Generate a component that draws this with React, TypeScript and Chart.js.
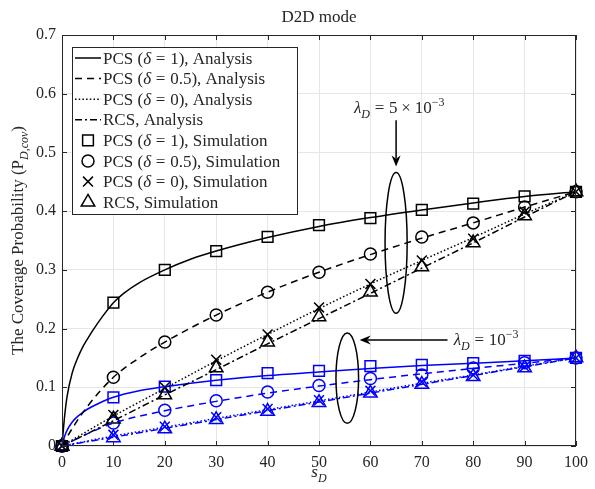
import React, { useEffect, useRef } from 'react';
import { Chart, registerables } from 'chart.js';

Chart.register(...registerables);

// ---- axes ----
const X_TICKS = [0, 10, 20, 30, 40, 50, 60, 70, 80, 90, 100];
const Y_TICKS = [0, 0.1, 0.2, 0.3, 0.4, 0.5, 0.6, 0.7];
const Y_TICK_LABELS = ['0', '0.1', '0.2', '0.3', '0.4', '0.5', '0.6', '0.7'];

// ---- simulation points (s_D = 0, 10, ..., 100) ----
const SIM_X = [0, 10, 20, 30, 40, 50, 60, 70, 80, 90, 100];

// lambda_D = 5e-3
const HI_PCS1_SIM = [0, 0.244, 0.3, 0.332, 0.356, 0.376, 0.388, 0.402, 0.413, 0.425, 0.433];
const HI_PCS05_SIM = [0, 0.117, 0.177, 0.223, 0.262, 0.296, 0.327, 0.356, 0.38, 0.407, 0.433];
const HI_PCS0_SIM = [0, 0.053, 0.1, 0.147, 0.19, 0.236, 0.276, 0.316, 0.353, 0.399, 0.433];
const HI_RCS_SIM = [0, 0.046, 0.087, 0.133, 0.177, 0.22, 0.262, 0.305, 0.346, 0.392, 0.433];

// lambda_D = 1e-3
const LO_PCS1_SIM = [0, 0.083, 0.101, 0.112, 0.124, 0.128, 0.136, 0.138, 0.141, 0.145, 0.15];
const LO_PCS05_SIM = [0, 0.039, 0.061, 0.077, 0.092, 0.103, 0.115, 0.121, 0.133, 0.142, 0.15];
const LO_PCS0_SIM = [0, 0.019, 0.033, 0.049, 0.063, 0.078, 0.094, 0.109, 0.121, 0.135, 0.15];
const LO_RCS_SIM = [0, 0.014, 0.029, 0.045, 0.059, 0.074, 0.09, 0.105, 0.118, 0.133, 0.15];

// ---- analysis curves ----
const HI_PCS1_X = [0, 0.5, 1, 2, 3, 4, 5, 6, 8, 10, 12, 15, 20, 25, 30, 40, 50, 60, 70, 80, 90, 100];
const HI_PCS1_Y = [0, 0.05, 0.085, 0.125, 0.149, 0.168, 0.183, 0.197, 0.222, 0.244, 0.26, 0.278, 0.3, 0.318, 0.332, 0.355, 0.374, 0.389, 0.402, 0.414, 0.425, 0.433];
const HI_PCS05_X = [0, 2, 5, 10, 15, 20, 30, 40, 50, 60, 70, 80, 90, 100];
const HI_PCS05_Y = [0, 0.03, 0.068, 0.117, 0.15, 0.177, 0.223, 0.262, 0.296, 0.326, 0.354, 0.38, 0.407, 0.433];
const HI_PCS0_X = [0, 10, 20, 30, 40, 50, 60, 70, 80, 90, 100];
const HI_PCS0_Y = [0, 0.051, 0.098, 0.145, 0.19, 0.234, 0.276, 0.316, 0.355, 0.395, 0.433];
const HI_RCS_X = [0, 10, 20, 30, 40, 50, 60, 70, 80, 90, 100];
const HI_RCS_Y = [0, 0.043, 0.087, 0.13, 0.174, 0.217, 0.26, 0.303, 0.346, 0.39, 0.433];

const LO_PCS1_X = [0, 0.5, 1, 2, 3, 4, 5, 7, 10, 15, 20, 25, 30, 40, 50, 60, 70, 80, 90, 100];
const LO_PCS1_Y = [0, 0.016, 0.027, 0.041, 0.05, 0.057, 0.063, 0.072, 0.083, 0.094, 0.101, 0.107, 0.112, 0.12, 0.126, 0.132, 0.137, 0.141, 0.145, 0.15];
const LO_PCS05_X = [0, 5, 10, 20, 30, 40, 50, 60, 70, 80, 90, 100];
const LO_PCS05_Y = [0, 0.021, 0.039, 0.06, 0.076, 0.09, 0.102, 0.113, 0.123, 0.132, 0.141, 0.15];
const LO_PCS0_X = [0, 10, 20, 30, 40, 50, 60, 70, 80, 90, 100];
const LO_PCS0_Y = [0, 0.017, 0.032, 0.047, 0.062, 0.077, 0.092, 0.107, 0.121, 0.136, 0.15];
const LO_RCS_X = [0, 10, 20, 30, 40, 50, 60, 70, 80, 90, 100];
const LO_RCS_Y = [0, 0.015, 0.03, 0.045, 0.06, 0.075, 0.09, 0.105, 0.12, 0.135, 0.15];

// ---- styling ----
const FONT = '"Liberation Serif", "DejaVu Serif", serif';
const INK = '#262626';
const GRID = '#e6e6e6';
const BLACK = '#000000';
const BLUE = '#0000ff';

// pad: extra space (in em) on both sides of a segment, like math relation spacing
type Seg = { t: string; it?: boolean; sub?: boolean; sup?: boolean; pad?: number };

const EQ: Seg = { t: '=', pad: 0.28 };

const STYLES = {
  pcs1: { dash: [] as number[], marker: 'rect', radius: 7.6 },
  pcs05: { dash: [7, 5], marker: 'circle', radius: 6 },
  pcs0: { dash: [1.5, 2.2], marker: 'crossRot', radius: 7 },
  rcs: { dash: [7, 3, 2, 3], marker: 'triangle', radius: 7.8 },
};

const LEGEND_ROWS: { segs: Seg[]; kind: 'line' | 'marker'; style: keyof typeof STYLES }[] = [
  { segs: [{ t: 'PCS (' }, { t: 'δ', it: true }, EQ, { t: '1), Analysis' }], kind: 'line', style: 'pcs1' },
  { segs: [{ t: 'PCS (' }, { t: 'δ', it: true }, EQ, { t: '0.5), Analysis' }], kind: 'line', style: 'pcs05' },
  { segs: [{ t: 'PCS (' }, { t: 'δ', it: true }, EQ, { t: '0), Analysis' }], kind: 'line', style: 'pcs0' },
  { segs: [{ t: 'RCS, Analysis' }], kind: 'line', style: 'rcs' },
  { segs: [{ t: 'PCS (' }, { t: 'δ', it: true }, EQ, { t: '1), Simulation' }], kind: 'marker', style: 'pcs1' },
  { segs: [{ t: 'PCS (' }, { t: 'δ', it: true }, EQ, { t: '0.5), Simulation' }], kind: 'marker', style: 'pcs05' },
  { segs: [{ t: 'PCS (' }, { t: 'δ', it: true }, EQ, { t: '0), Simulation' }], kind: 'marker', style: 'pcs0' },
  { segs: [{ t: 'RCS, Simulation' }], kind: 'marker', style: 'rcs' },
];

const TITLE_TEXT: Seg[] = [{ t: 'D2D mode' }];
const X_TITLE: Seg[] = [{ t: 's', it: true }, { t: 'D', it: true, sub: true }];
const Y_TITLE: Seg[] = [
  { t: 'The Coverage Probability (P' },
  { t: 'D,cov', it: true, sub: true },
  { t: ')' },
];
const NOTE_HI: Seg[] = [
  { t: 'λ', it: true }, { t: 'D', it: true, sub: true }, EQ, { t: '5' }, { t: '×', pad: 0.22 }, { t: '10' }, { t: '−3', sup: true },
];
const NOTE_LO: Seg[] = [
  { t: 'λ', it: true }, { t: 'D', it: true, sub: true }, EQ, { t: '10' }, { t: '−3', sup: true },
];

const pts = (xs: number[], ys: number[]) => xs.map((x, i) => ({ x, y: ys[i] }));

function lineSet(xs: number[], ys: number[], color: string, style: keyof typeof STYLES) {
  return {
    data: pts(xs, ys),
    showLine: true,
    borderColor: color,
    borderWidth: 1.5,
    borderDash: STYLES[style].dash,
    pointRadius: 0,
    cubicInterpolationMode: 'monotone' as const,
    clip: false as const,
  };
}

function markerSet(ys: number[], color: string, style: keyof typeof STYLES) {
  return {
    data: pts(SIM_X, ys),
    showLine: false,
    pointStyle: STYLES[style].marker,
    pointRadius: STYLES[style].radius,
    pointBorderColor: color,
    pointBackgroundColor: 'rgba(0,0,0,0)',
    pointBorderWidth: 1.5,
    clip: false as const,
  };
}

function drawRich(ctx: CanvasRenderingContext2D, segs: Seg[], x: number, y: number, size: number, align: 'left' | 'center') {
  const fontFor = (s: Seg) => `${s.it ? 'italic ' : ''}${s.sub || s.sup ? Math.round(size * 0.72) : size}px ${FONT}`;
  const widthOf = (s: Seg) => {
    ctx.font = fontFor(s);
    return ctx.measureText(s.t).width + 2 * (s.pad || 0) * size;
  };
  let total = 0;
  segs.forEach((s) => {
    total += widthOf(s);
  });
  let cx = align === 'center' ? x - total / 2 : x;
  ctx.textAlign = 'left';
  ctx.textBaseline = 'alphabetic';
  segs.forEach((s) => {
    const w = widthOf(s);
    ctx.font = fontFor(s);
    const dy = s.sub ? size * 0.28 : s.sup ? -size * 0.42 : 0;
    ctx.fillText(s.t, cx + (s.pad || 0) * size, y + dy);
    cx += w;
  });
}

function arrowHead(ctx: CanvasRenderingContext2D, x0: number, y0: number, x1: number, y1: number) {
  const ang = Math.atan2(y1 - y0, x1 - x0);
  const L = 11;
  const W = 4.5;
  ctx.save();
  ctx.translate(x1, y1);
  ctx.rotate(ang);
  ctx.beginPath();
  ctx.moveTo(0, 0);
  ctx.lineTo(-L, -W);
  ctx.lineTo(-L * 0.7, 0);
  ctx.lineTo(-L, W);
  ctx.closePath();
  ctx.fill();
  ctx.restore();
}

function drawMarker(ctx: CanvasRenderingContext2D, style: keyof typeof STYLES, x: number, y: number) {
  const st = STYLES[style];
  ctx.save();
  ctx.strokeStyle = BLACK;
  ctx.lineWidth = 1.5;
  ctx.setLineDash([]);
  const r = st.radius;
  ctx.beginPath();
  if (st.marker === 'rect') {
    const h = r * Math.SQRT1_2;
    ctx.rect(x - h, y - h, 2 * h, 2 * h);
  } else if (st.marker === 'circle') {
    ctx.arc(x, y, r, 0, Math.PI * 2);
  } else if (st.marker === 'crossRot') {
    const h = r * Math.SQRT1_2;
    ctx.moveTo(x - h, y - h);
    ctx.lineTo(x + h, y + h);
    ctx.moveTo(x + h, y - h);
    ctx.lineTo(x - h, y + h);
  } else {
    const a = (2 * Math.PI) / 3;
    ctx.moveTo(x, y - r);
    ctx.lineTo(x + Math.sin(a) * r, y - Math.cos(a) * r);
    ctx.lineTo(x + Math.sin(2 * a) * r, y - Math.cos(2 * a) * r);
    ctx.closePath();
  }
  ctx.stroke();
  ctx.restore();
}

const decorations = {
  id: 'decorations',
  beforeDraw(chart: any) {
    const ctx = chart.ctx as CanvasRenderingContext2D;
    ctx.save();
    ctx.fillStyle = '#ffffff';
    ctx.fillRect(0, 0, chart.width, chart.height);
    ctx.restore();
  },
  afterDraw(chart: any) {
    const ctx = chart.ctx as CanvasRenderingContext2D;
    const { left, right, top, bottom } = chart.chartArea;
    const xs = chart.scales.x;
    const ys = chart.scales.y;

    // axes box with inward ticks
    ctx.save();
    ctx.strokeStyle = INK;
    ctx.lineWidth = 1;
    ctx.setLineDash([]);
    ctx.strokeRect(left + 0.5, top + 0.5, right - left - 1, bottom - top - 1);
    ctx.beginPath();
    const tl = 5;
    X_TICKS.forEach((v) => {
      const px = Math.round(xs.getPixelForValue(v)) + 0.5;
      ctx.moveTo(px, bottom);
      ctx.lineTo(px, bottom - tl);
      ctx.moveTo(px, top);
      ctx.lineTo(px, top + tl);
    });
    Y_TICKS.forEach((v) => {
      const py = Math.round(ys.getPixelForValue(v)) + 0.5;
      ctx.moveTo(left, py);
      ctx.lineTo(left + tl, py);
      ctx.moveTo(right, py);
      ctx.lineTo(right - tl, py);
    });
    ctx.stroke();
    ctx.restore();

    // annotations: ellipses and arrows
    ctx.save();
    ctx.strokeStyle = BLACK;
    ctx.fillStyle = BLACK;
    ctx.lineWidth = 1.5;
    ctx.setLineDash([]);
    const ellipse = (cx: number, cy: number, rx: number, ry: number) => {
      const px = xs.getPixelForValue(cx);
      const py = ys.getPixelForValue(cy);
      const prx = Math.abs(xs.getPixelForValue(cx + rx) - px);
      const pry = Math.abs(ys.getPixelForValue(cy + ry) - py);
      ctx.beginPath();
      ctx.ellipse(px, py, prx, pry, 0, 0, Math.PI * 2);
      ctx.stroke();
    };
    ellipse(65, 0.346, 2.15, 0.12);
    ellipse(55.5, 0.1156, 2.2, 0.077);

    const arrow = (x0: number, y0: number, x1: number, y1: number) => {
      const p0x = xs.getPixelForValue(x0);
      const p0y = ys.getPixelForValue(y0);
      const p1x = xs.getPixelForValue(x1);
      const p1y = ys.getPixelForValue(y1);
      const ang = Math.atan2(p1y - p0y, p1x - p0x);
      ctx.beginPath();
      ctx.moveTo(p0x, p0y);
      ctx.lineTo(p1x - Math.cos(ang) * 8, p1y - Math.sin(ang) * 8);
      ctx.stroke();
      arrowHead(ctx, p0x, p0y, p1x, p1y);
    };
    arrow(65, 0.555, 65, 0.476);
    arrow(75, 0.1806, 57.9, 0.1806);

    ctx.fillStyle = INK;
    drawRich(ctx, NOTE_HI, xs.getPixelForValue(65.6), ys.getPixelForValue(0.576) + 5, 17, 'center');
    drawRich(ctx, NOTE_LO, xs.getPixelForValue(76.2), ys.getPixelForValue(0.1806) + 5, 17, 'left');
    ctx.restore();

    // legend
    ctx.save();
    const lx0 = 72, ly0 = 47, lx1 = 298, ly1 = 215;
    ctx.fillStyle = '#ffffff';
    ctx.fillRect(lx0, ly0, lx1 - lx0, ly1 - ly0);
    ctx.strokeStyle = INK;
    ctx.lineWidth = 1;
    ctx.strokeRect(lx0 + 0.5, ly0 + 0.5, lx1 - lx0 - 1, ly1 - ly0 - 1);
    LEGEND_ROWS.forEach((row, i) => {
      const cy = 58 + i * 20.6;
      if (row.kind === 'line') {
        ctx.save();
        ctx.strokeStyle = BLACK;
        ctx.lineWidth = 1.5;
        ctx.setLineDash(STYLES[row.style].dash);
        ctx.beginPath();
        ctx.moveTo(75, cy);
        ctx.lineTo(101, cy);
        ctx.stroke();
        ctx.restore();
      } else {
        drawMarker(ctx, row.style, 88, cy);
      }
      ctx.fillStyle = INK;
      drawRich(ctx, row.segs, 103, cy + 5.5, 17, 'left');
    });
    ctx.restore();

    // titles
    ctx.save();
    ctx.fillStyle = INK;
    const midX = (left + right) / 2;
    drawRich(ctx, TITLE_TEXT, midX, 22, 17, 'center');
    drawRich(ctx, X_TITLE, midX, 477, 17, 'center');
    ctx.translate(23, (top + bottom) / 2);
    ctx.rotate(-Math.PI / 2);
    drawRich(ctx, Y_TITLE, 0, 0, 17, 'center');
    ctx.restore();
  },
};

export default function App() {
  const ref = useRef<HTMLCanvasElement | null>(null);

  useEffect(() => {
    if (!ref.current) return;
    const datasets: any[] = [
      lineSet(HI_PCS1_X, HI_PCS1_Y, BLACK, 'pcs1'),
      lineSet(HI_PCS05_X, HI_PCS05_Y, BLACK, 'pcs05'),
      lineSet(HI_PCS0_X, HI_PCS0_Y, BLACK, 'pcs0'),
      lineSet(HI_RCS_X, HI_RCS_Y, BLACK, 'rcs'),
      lineSet(LO_PCS1_X, LO_PCS1_Y, BLUE, 'pcs1'),
      lineSet(LO_PCS05_X, LO_PCS05_Y, BLUE, 'pcs05'),
      lineSet(LO_PCS0_X, LO_PCS0_Y, BLUE, 'pcs0'),
      lineSet(LO_RCS_X, LO_RCS_Y, BLUE, 'rcs'),
      markerSet(HI_PCS1_SIM, BLACK, 'pcs1'),
      markerSet(HI_PCS05_SIM, BLACK, 'pcs05'),
      markerSet(HI_PCS0_SIM, BLACK, 'pcs0'),
      markerSet(HI_RCS_SIM, BLACK, 'rcs'),
      markerSet(LO_PCS1_SIM, BLUE, 'pcs1'),
      markerSet(LO_PCS05_SIM, BLUE, 'pcs05'),
      markerSet(LO_PCS0_SIM, BLUE, 'pcs0'),
      markerSet(LO_RCS_SIM, BLUE, 'rcs'),
    ];

    const chart = new Chart(ref.current, {
      type: 'scatter',
      data: { datasets },
      options: {
        animation: false,
        responsive: false,
        devicePixelRatio: 1,
        layout: { padding: { left: 0, right: 13, top: 35, bottom: 0 } },
        plugins: {
          legend: { display: false },
          tooltip: { enabled: false },
          title: { display: false },
        },
        scales: {
          x: {
            type: 'linear',
            min: 0,
            max: 100,
            afterBuildTicks: (s: any) => {
              s.ticks = X_TICKS.map((v) => ({ value: v }));
            },
            afterFit: (s: any) => {
              s.height = 43;
            },
            grid: { color: GRID, drawTicks: false, lineWidth: 1 },
            border: { display: false },
            ticks: {
              padding: 7,
              autoSkip: false,
              maxRotation: 0,
              color: INK,
              font: { family: FONT, size: 16 },
              callback: (v: any) => String(v),
            },
          },
          y: {
            type: 'linear',
            min: 0,
            max: 0.7,
            afterBuildTicks: (s: any) => {
              s.ticks = Y_TICKS.map((v) => ({ value: v }));
            },
            afterFit: (s: any) => {
              s.width = 62;
            },
            grid: { color: GRID, drawTicks: false, lineWidth: 1 },
            border: { display: false },
            ticks: {
              padding: 6,
              autoSkip: false,
              color: INK,
              font: { family: FONT, size: 16 },
              callback: (v: any) => {
                const i = Y_TICKS.findIndex((t) => Math.abs(t - Number(v)) < 1e-9);
                return i >= 0 ? Y_TICK_LABELS[i] : '';
              },
            },
          },
        },
      },
      plugins: [decorations],
    });
    return () => chart.destroy();
  }, []);

  return (
    <canvas
      ref={ref}
      width={595}
      height={489}
      style={{ position: 'absolute', left: 0, top: 0, width: 595, height: 489, display: 'block' }}
    />
  );
}
